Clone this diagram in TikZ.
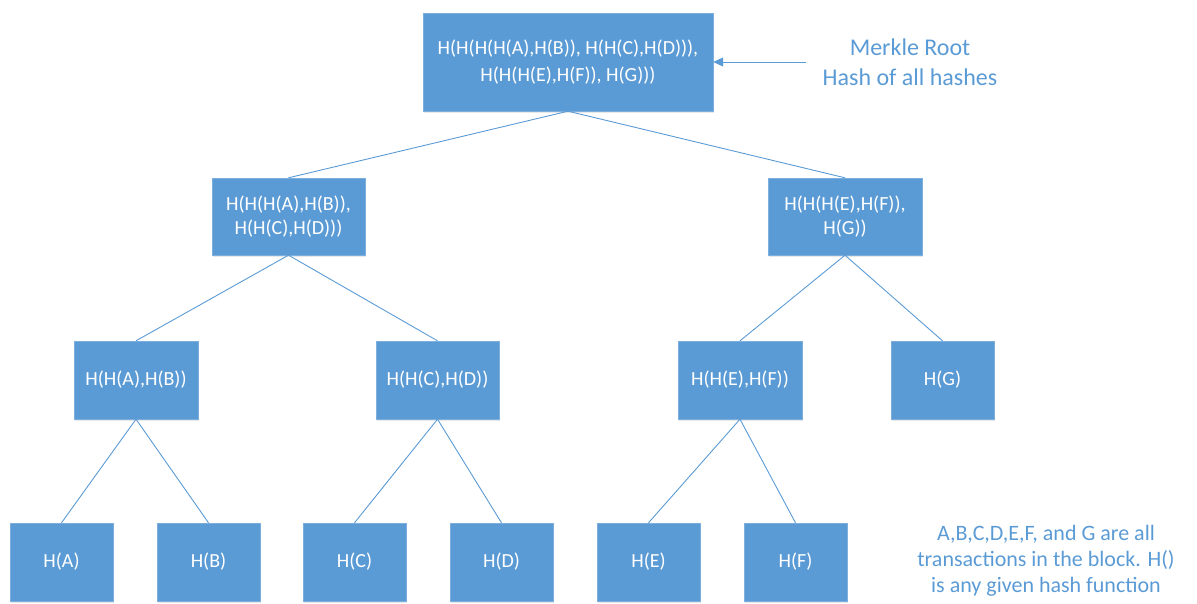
\documentclass[tikz,border=0pt]{standalone}
\usepackage{fontspec}
\setmainfont{Carlito}
\usetikzlibrary{arrows.meta,shadows}
\definecolor{officeblue}{HTML}{5B9BD5}
\begin{document}
\begin{tikzpicture}[x=1pt,y=-1pt,
  hashbox/.style={draw=officeblue!80!white, fill=officeblue, text=white,
    inner sep=0pt, align=center, font=\fontsize{20}{24}\selectfont,
    drop shadow={opacity=0.18, shadow xshift=1pt, shadow yshift=-2pt}},
  leafbox/.style={hashbox, minimum width=103pt, minimum height=78pt},
  link/.style={draw=officeblue, line width=0.9pt},
  note/.style={text=officeblue, align=center}]
\useasboundingbox (0,0) rectangle (1197,603);

% root
\node[hashbox, minimum width=290pt, minimum height=98pt,
      font=\fontsize{20}{27}\selectfont] (root) at (568,62)
  {H(H(H(H(A),H(B)), H(H(C),H(D))),\\H(H(H(E),H(F)), H(G)))};

% second level
\node[hashbox, minimum width=153pt, minimum height=77pt] (abcd) at (288.5,216.5)
  {H(H(H(A),H(B)),\\H(H(C),H(D)))};
\node[hashbox, minimum width=154pt, minimum height=77pt] (efg) at (845,216.5)
  {H(H(H(E),H(F)),\\H(G))};

% third level
\node[hashbox, minimum width=124pt, minimum height=78pt] (ab) at (136,380) {H(H(A),H(B))};
\node[hashbox, minimum width=123pt, minimum height=78pt] (cd) at (437.5,380) {H(H(C),H(D))};
\node[hashbox, minimum width=124pt, minimum height=78pt] (ef) at (740,380) {H(H(E),H(F))};
\node[leafbox] (g) at (942.5,380) {H(G)};

% leaves
\node[leafbox] (a) at (61.5,562) {H(A)};
\node[leafbox] (b) at (208.5,562) {H(B)};
\node[leafbox] (c) at (354.5,562) {H(C)};
\node[leafbox] (d) at (501.5,562) {H(D)};
\node[leafbox] (e) at (648.5,562) {H(E)};
\node[leafbox] (f) at (795.5,562) {H(F)};

% tree edges
\draw[link] (root.south) -- (abcd.north);
\draw[link] (root.south) -- (efg.north);
\draw[link] (abcd.south) -- (ab.north);
\draw[link] (abcd.south) -- (cd.north);
\draw[link] (efg.south) -- (ef.north);
\draw[link] (efg.south) -- (g.north);
\draw[link] (ab.south) -- (a.north);
\draw[link] (ab.south) -- (b.north);
\draw[link] (cd.south) -- (c.north);
\draw[link] (cd.south) -- (d.north);
\draw[link] (ef.south) -- (e.north);
\draw[link] (ef.south) -- (f.north);

% annotations
\node[note, font=\fontsize{24}{30}\selectfont] (rootnote) at (910,62)
  {Merkle Root\\Hash of all hashes};
\coordinate (arrowtail) at (806,62);
\draw[link, -{Triangle[length=10pt,width=9pt]}] (arrowtail) -- (root.east);

\node[note, font=\fontsize{22}{26}\selectfont] (txnote) at (1046,561)
  {A,B,C,D,E,F, and G are all\\transactions in the block. H()\\is any given hash function};
\end{tikzpicture}
\end{document}
